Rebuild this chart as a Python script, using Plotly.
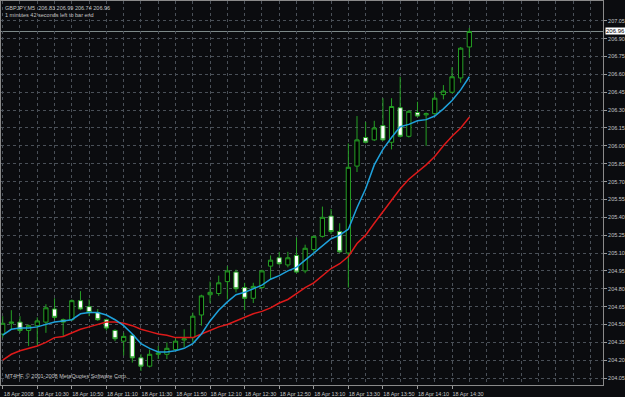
import plotly.graph_objects as go

day = "2008-04-18"
times_hm = ["10:10","10:15","10:20","10:25","10:30","10:35","10:40","10:45","10:50","10:55",
            "11:00","11:05","11:10","11:15","11:20","11:25","11:30","11:35","11:40","11:45",
            "11:50","11:55","12:00","12:05","12:10","12:15","12:20","12:25","12:30","12:35",
            "12:40","12:45","12:50","12:55","13:00","13:05","13:10","13:15","13:20","13:25",
            "13:30","13:35","13:40","13:45","13:50","13:55","14:00","14:05","14:10","14:15",
            "14:20","14:25","14:30","14:35","14:40"]
times = [f"{day} {t}" for t in times_hm]

opens = [204.42,204.51,204.52,204.45,204.49,204.52,204.63,204.54,204.54,204.70,
         204.65,204.60,204.54,204.45,204.36,204.41,204.22,204.15,204.25,204.25,
         204.29,204.37,204.39,204.58,204.75,204.76,204.86,204.94,204.81,204.72,
         204.81,204.99,205.06,205.00,205.08,204.95,205.13,205.24,205.41,205.28,
         205.10,205.83,206.07,206.05,206.17,206.03,206.32,206.08,206.28,206.26,
         206.27,206.43,206.45,206.57,206.83]
highs = [204.57,204.62,204.57,204.50,204.56,204.67,204.72,204.55,204.71,204.78,
         204.71,204.63,204.55,204.46,204.43,204.42,204.25,204.29,204.32,204.35,
         204.39,204.46,204.60,204.75,204.86,204.91,204.99,204.96,204.85,204.85,
         204.96,205.08,205.11,205.11,205.23,205.17,205.24,205.49,205.47,205.35,
         206.02,206.25,206.20,206.21,206.40,206.40,206.58,206.30,206.37,206.28,
         206.45,206.51,206.66,206.83,206.99]
lows = [204.39,204.46,204.43,204.32,204.33,204.43,204.54,204.40,204.53,204.62,
        204.57,204.53,204.45,204.36,204.24,204.18,204.11,204.14,204.21,204.21,
        204.28,204.31,204.35,204.49,204.68,204.74,204.71,204.77,204.62,204.68,
        204.80,204.88,205.00,204.98,204.93,204.93,205.11,205.23,205.26,205.10,
        204.81,205.78,206.02,206.04,206.04,205.97,206.07,206.07,206.24,206.00,
        206.26,206.39,206.44,206.53,206.74]
closes = [204.51,204.52,204.45,204.49,204.53,204.64,204.56,204.52,204.70,204.63,
          204.60,204.54,204.47,204.38,204.40,204.22,204.15,204.25,204.26,204.30,
          204.36,204.38,204.57,204.74,204.77,204.85,204.95,204.80,204.72,204.82,
          204.95,205.04,205.01,205.06,204.94,205.14,205.24,205.40,205.28,205.11,
          205.82,206.05,206.03,206.15,206.05,206.33,206.08,206.29,206.25,206.27,
          206.40,206.46,206.58,206.82,206.96]

ma_fast = [204.41,204.46,204.47,204.47,204.48,204.50,204.52,204.53,204.54,204.59,
           204.60,204.60,204.58,204.54,204.49,204.42,204.34,204.30,204.27,204.27,
           204.28,204.30,204.34,204.42,204.53,204.62,204.69,204.75,204.77,204.80,
           204.83,204.88,204.91,204.95,204.98,205.04,205.10,205.16,205.22,205.25,
           205.30,205.48,205.64,205.84,205.97,206.07,206.16,206.18,206.21,206.22,
           206.25,206.31,206.38,206.47,206.58]
ma_slow = [204.20,204.25,204.28,204.30,204.32,204.35,204.39,204.40,204.43,204.46,
           204.48,204.50,204.52,204.52,204.51,204.49,204.46,204.44,204.42,204.41,
           204.39,204.39,204.39,204.42,204.45,204.48,204.50,204.53,204.56,204.59,
           204.61,204.64,204.68,204.71,204.76,204.81,204.85,204.91,204.97,205.01,
           205.07,205.18,205.25,205.35,205.45,205.55,205.64,205.72,205.78,205.84,
           205.91,206.00,206.08,206.15,206.24]

price_ticks = [207.05,206.90,206.75,206.60,206.45,206.30,206.15,206.00,205.85,205.70,
               205.55,205.40,205.25,205.10,204.95,204.80,204.65,204.50,204.35,204.20,204.05]
time_tick_labels = ["18 Apr 2008","18 Apr 10:30","18 Apr 10:50","18 Apr 11:10","18 Apr 11:30",
                    "18 Apr 11:50","18 Apr 12:10","18 Apr 12:30","18 Apr 12:50","18 Apr 13:10",
                    "18 Apr 13:30","18 Apr 13:50","18 Apr 14:10","18 Apr 14:30"]
time_tick_vals = [times[i] for i in range(0, 55, 4)]

symbol_line = "GBPJPY,M5  206.83 206.99 206.74 206.96"
timer_line = "1 minutes 42 seconds left to bar end"
copyright_line = "MT4HF, © 2001-2008 MetaQuotes Software Corp."
bid = 206.96

GREEN = "#25a025"
BG = "#0b0c0f"
GRID = "#4a5058"
TXT = "#c4c4c4"
FONT = "Liberation Sans"

fig = go.Figure()
fig.add_trace(go.Candlestick(
    x=times, open=opens, high=highs, low=lows, close=closes,
    increasing=dict(line=dict(color=GREEN, width=1), fillcolor="#000000"),
    decreasing=dict(line=dict(color=GREEN, width=1), fillcolor="#ffffff"),
    whiskerwidth=0, hoverinfo="skip", showlegend=False))
fig.add_trace(go.Scatter(x=times, y=ma_slow, mode="lines",
                         line=dict(color="#dd1a1a", width=1.5), showlegend=False, hoverinfo="skip"))
fig.add_trace(go.Scatter(x=times, y=ma_fast, mode="lines",
                         line=dict(color="#1fa2dc", width=1.5), showlegend=False, hoverinfo="skip"))

fig.add_shape(type="line", xref="paper", x0=0, x1=1, yref="y", y0=bid, y1=bid,
              line=dict(color="#7f8b8b", width=1), layer="below")

fig.add_annotation(xref="paper", yref="y", x=1, y=bid, text=f"{bid:.2f}", showarrow=False,
                   xanchor="left", yanchor="middle", xshift=2, bgcolor="#ffffff",
                   font=dict(family=FONT, size=6, color="#000000"), borderpad=0)
fig.add_annotation(xref="paper", yref="paper", x=0, y=1, text=symbol_line, showarrow=False,
                   xanchor="left", yanchor="top", xshift=2, yshift=-2,
                   font=dict(family=FONT, size=5.5, color=TXT))
fig.add_annotation(xref="paper", yref="paper", x=0, y=1, text=timer_line, showarrow=False,
                   xanchor="left", yanchor="top", xshift=2, yshift=-9,
                   font=dict(family=FONT, size=5.5, color=TXT))
fig.add_annotation(xref="paper", yref="paper", x=0, y=0, text=copyright_line, showarrow=False,
                   xanchor="left", yanchor="bottom", xshift=2, yshift=4,
                   font=dict(family=FONT, size=5.5, color=TXT))

fig.update_layout(
    width=625, height=397,
    margin=dict(l=0, r=21, t=0, b=9),
    paper_bgcolor=BG, plot_bgcolor=BG,
    font=dict(family=FONT, size=5.5, color=TXT),
    showlegend=False,
)
fig.update_xaxes(
    type="date",
    range=["2008-04-18 10:09:01", "2008-04-18 15:57:21"],
    rangeslider=dict(visible=False),
    tickmode="array", tickvals=time_tick_vals, ticktext=time_tick_labels,
    ticks="outside", ticklen=3, tickcolor="#9a9a9a", ticklabelshift=16, ticklabelstandoff=0,
    showgrid=True, gridcolor=GRID, griddash="dot", gridwidth=1,
    minor=dict(tickmode="linear", tick0="2008-04-18 10:10", dtick=600000,
               showgrid=True, gridcolor=GRID, griddash="dot", gridwidth=1, ticks=""),
    showline=True, linecolor="#8a8a8a", linewidth=1, mirror=True,
    zeroline=False, tickfont=dict(family=FONT, size=5.5, color=TXT),
)
fig.update_yaxes(
    side="right", range=[203.992, 207.216],
    tickmode="array", tickvals=price_ticks, ticktext=[f"{v:.2f}" for v in price_ticks],
    ticks="outside", ticklen=3, tickcolor="#9a9a9a",
    showgrid=True, gridcolor=GRID, griddash="dot", gridwidth=1,
    showline=True, linecolor="#8a8a8a", linewidth=1, mirror=True,
    zeroline=False, tickfont=dict(family=FONT, size=5.5, color=TXT),
)

fig.write_html("out.html")
